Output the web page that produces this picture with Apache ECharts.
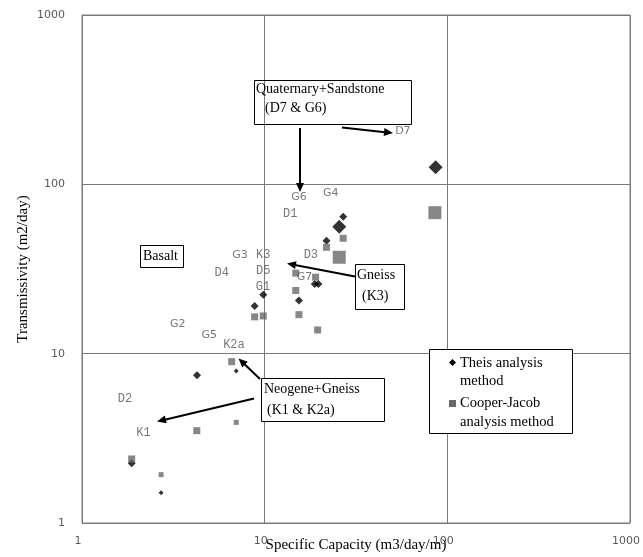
<!DOCTYPE html>
<html><head><meta charset="utf-8">
<script src="https://cdn.jsdelivr.net/npm/echarts@6/dist/echarts.min.js"></script>
<style>html,body{margin:0;padding:0;background:#fff}#c{width:643px;height:557px}</style>
</head><body><div id="c"></div>
<script>
// Theis analysis method (specific capacity, transmissivity), grouped by marker size class
const theisSmall  = [[6.99,7.90],[2.71,1.51]];
const theisMedium = [[26.9,64.4],[21.8,46.5],[18.8,25.8],[19.7,25.8],[9.82,22.3],[15.4,20.6],[8.81,19.1],[4.26,7.45],[1.87,2.25]];
const theisLarge  = [[25.6,56.2],[86.3,126]];
// Cooper-Jacob analysis method
const cooperSmall  = [[6.99,3.93],[2.71,1.93]];
const cooperMedium = [[26.9,48.0],[21.8,42.5],[14.8,29.9],[19.0,28.3],[14.8,23.6],[8.81,16.5],[9.82,16.7],[15.4,17.0],[19.5,13.8],[6.60,8.97],[4.25,3.51],[1.87,2.39]];
const cooperLarge  = [[25.6,37.1],[85.5,68.0]];
// well labels (name, x, y)
const wellLabelsSans = [['G6',15.4,83.9],['G4',23.0,88.6],['D7',57.1,205],['G3',7.33,38.3],['G7',16.5,28.3],['G2',3.34,15.0],['G5',4.98,12.9]];
const wellLabelsMono = [['D1',13.8,66.9],['K3',9.82,38.3],['D3',17.9,38.3],['D4',5.82,29.9],['D5',9.82,30.9],['G1',9.79,24.9],['K2a',6.79,11.3],['D2',1.72,5.38],['K1',2.17,3.42]];
const xTicks = [1,10,100,1000];
const yTicks = [1,10,100,1000];
const seriesNames = ['Theis analysis method','Cooper-Jacob analysis method'];
const xTitle = 'Specific Capacity (m3/day/m)';
const yTitle = 'Transmissivity (m2/day)';

const chart = echarts.init(document.getElementById('c'), null, {renderer:'canvas'});
const BLACK = '#000', GREY = '#696969', GRID = '#7a7a7a';
function sc(name, data, symbol, size, color, z){
  return {type:'scatter', name, data, symbol, symbolSize:size, itemStyle:{color}, z, silent:true};
}
function labelSeries(arr, font, size){
  return {type:'scatter', data:arr.map(a=>({name:a[0], value:[a[1],a[2]]})), symbolSize:0, z:5, silent:true,
    label:{show:true, position:'inside', formatter:'{b}', color:'#555', fontFamily:font, fontSize:size}};
}
const serif = '"Liberation Serif","Times New Roman",serif';

function arrow(x1,y1,x2,y2){
  const dx=x2-x1, dy=y2-y1, L=Math.hypot(dx,dy), ux=dx/L, uy=dy/L, px=-uy, py=ux;
  const hl=9, hw=4;
  const bx=x2-ux*hl, by=y2-uy*hl;
  return [
    {type:'line', shape:{x1,y1,x2:bx+ux*1,y2:by+uy*1}, style:{stroke:BLACK, lineWidth:2}, z:10},
    {type:'polygon', shape:{points:[[x2,y2],[bx+px*hw,by+py*hw],[bx-px*hw,by-py*hw]]}, style:{fill:BLACK}, z:10}
  ];
}
function box(x,y,w,h,fill){
  return {type:'rect', shape:{x,y,width:w,height:h}, style:{fill:fill?'#fff':'transparent', stroke:'#000', lineWidth:1}, z:9};
}
function txt(t,x,y,size){
  return {type:'text', x, y, style:{text:t, fill:'#000', font:(size||14)+'px '+serif, textVerticalAlign:'middle'}, z:11};
}

const graphics = [].concat(
  [box(254.5,80.5,157,44,false), txt('Quaternary+Sandstone',256,89), txt('(D7 & G6)',265,108)],
  arrow(300,128,300,192), arrow(342,127.5,393,133),
  [box(140.5,245.5,43,22,true), txt('Basalt',143,256.5)],
  [box(355.5,264.5,49,45,true), txt('Gneiss',357,275), txt('(K3)',362,296)],
  arrow(355,276.5,287,263.5),
  [box(261.5,378.5,123,43,true), txt('Neogene+Gneiss',264,389.5), txt('(K1 & K2a)',267,410.5)],
  arrow(254,398.5,157,421.5), arrow(260,379,238.5,358.5),
  [box(429.5,349.5,143,84,true),
   {type:'polygon', shape:{points:[[452.5,359],[456,362.5],[452.5,366],[449,362.5]]}, style:{fill:BLACK}, z:11},
   txt('Theis analysis',460,363,14.5), txt('method',460,381,14.5),
   {type:'rect', shape:{x:449,y:400,width:7,height:7}, style:{fill:GREY}, z:11},
   txt('Cooper-Jacob',460,403.5,14.5), txt('analysis method',460,422,14.5)]
);

chart.setOption({
  animation:false,
  backgroundColor:'#fff',
  grid:{left:82, right:13, top:15, bottom:34, containLabel:false, outerBoundsMode:'none',
    show:true, borderColor:GRID, borderWidth:1},
  xAxis:{type:'log', logBase:10, min:xTicks[0], max:xTicks[xTicks.length-1],
    axisLine:{show:false}, axisTick:{show:false},
    splitLine:{show:true, lineStyle:{color:GRID, width:1}},
    axisLabel:{color:'#595959', fontFamily:'DejaVu Sans', fontSize:11, margin:13, padding:[0,8,0,0],
      formatter:v=>String(Math.round(v))},
    name:xTitle, nameLocation:'middle', nameGap:15, nameMoveOverlap:false,
    nameTextStyle:{color:'#000', fontFamily:serif, fontSize:15}},
  yAxis:{type:'log', logBase:10, min:yTicks[0], max:yTicks[yTicks.length-1],
    axisLine:{show:false}, axisTick:{show:false},
    splitLine:{show:true, lineStyle:{color:GRID, width:1}},
    axisLabel:{color:'#595959', fontFamily:'DejaVu Sans', fontSize:11, margin:17,
      formatter:v=>String(Math.round(v))},
    name:yTitle, nameLocation:'middle', nameGap:51, nameMoveOverlap:false,
    nameTextStyle:{color:'#000', fontFamily:serif, fontSize:15}},
  series:[
    sc(seriesNames[0], theisMedium, 'diamond', 8, BLACK, 2),
    sc(seriesNames[0], theisLarge, 'diamond', 14, BLACK, 2),
    sc(seriesNames[0], theisSmall, 'diamond', 5, BLACK, 2),
    sc(seriesNames[1], cooperMedium, 'rect', 7, GREY, 3),
    sc(seriesNames[1], cooperLarge, 'rect', 13, GREY, 3),
    sc(seriesNames[1], cooperSmall, 'rect', 5, GREY, 3),
    labelSeries(wellLabelsSans, 'DejaVu Sans', 11),
    labelSeries(wellLabelsMono, '"Liberation Mono","Courier New",monospace', 12)
  ],
  graphic:graphics
});
</script></body></html>
